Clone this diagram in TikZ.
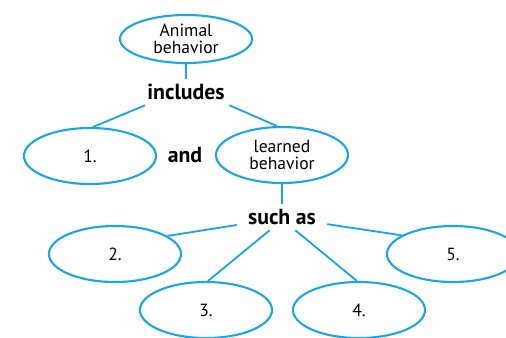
\documentclass[tikz,border=0pt]{standalone}
\usepackage{fontspec}
\setmainfont{PT Sans}
\usetikzlibrary{shapes.geometric}
\definecolor{mapblue}{HTML}{1AA7E3}

\begin{document}
\begin{tikzpicture}[x=0.025cm,y=-0.025cm,
  bubble/.style={ellipse,draw=mapblue,line width=1.5pt,minimum width=3.3cm,
    minimum height=1.4cm,inner sep=0pt,align=center,
    font=\fontsize{12.5}{12.5}\selectfont},
  linkword/.style={minimum width=2.25cm,minimum height=0.65cm,inner sep=0pt,
    font=\fontsize{15.5}{16}\selectfont\bfseries},
  link/.style={mapblue,line width=1.3pt}]

  \useasboundingbox (0,0) rectangle (506,337);

  % ---- Top concept ------------------------------------------
  \node[bubble,minimum height=1.2cm] (animal) at (186,39) {Animal\\behavior};
  \node[linkword] (includes) at (186,92) {includes};

  % ---- Second level -----------------------------------------
  \node[bubble] (one) at (90,156) {1.};
  \node[linkword,minimum width=1cm] (and) at (185,155) {and};
  \node[bubble] (learned) at (282,155) {learned\\behavior};
  \node[linkword] (suchas) at (282,217) {such as};

  % ---- Examples ---------------------------------------------
  \node[bubble] (two) at (115,254) {2.};
  \node[bubble] (three) at (206,310) {3.};
  \node[bubble] (four) at (359,310) {4.};
  \node[bubble] (five) at (453,254) {5.};

  % ---- Links ------------------------------------------------
  \draw[link] (animal.south) -- (includes.north);
  \draw[link] (includes.198) -- (one.84);
  \draw[link] (includes.343) -- (learned.100);
  \draw[link] (learned.south) -- (suchas.north);
  \draw[link] (suchas.190) -- (two.19);
  \draw[link] (suchas.227) -- (three.86);
  \draw[link] (suchas.315) -- (four.94);
  \draw[link] (suchas.351) -- (five.160);

\end{tikzpicture}
\end{document}
